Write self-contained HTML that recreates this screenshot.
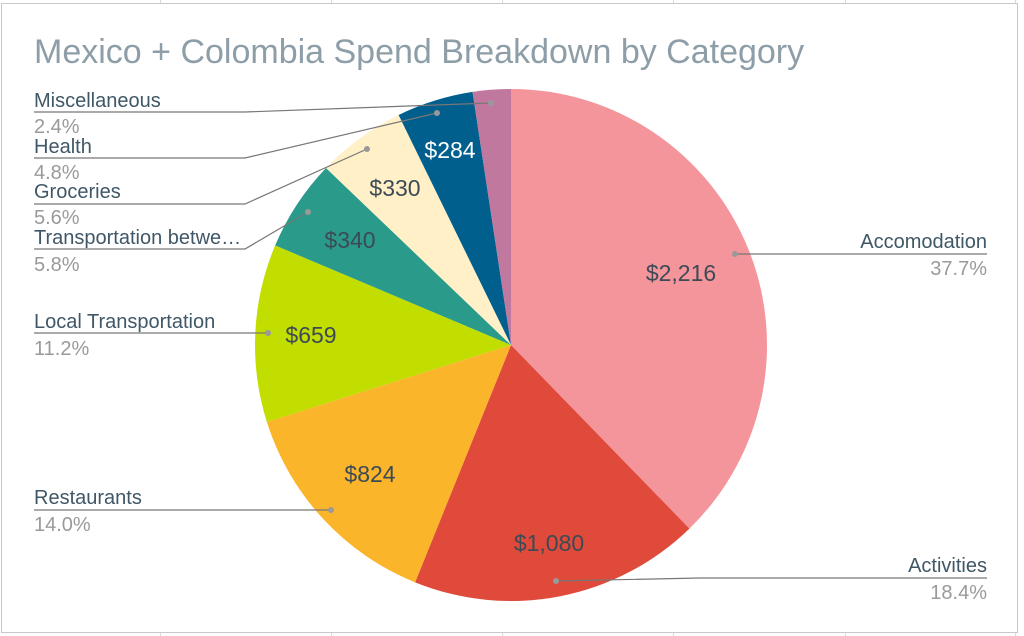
<!DOCTYPE html>
<html><head><meta charset="utf-8"><style>
html,body{margin:0;padding:0;background:#fff;}
svg{display:block;font-family:"Liberation Sans",Arial,sans-serif;}
</style></head><body>
<svg id="s" width="1024" height="636" viewBox="0 0 1024 636" xmlns="http://www.w3.org/2000/svg">
<g stroke="#d9d9d9" stroke-width="1">
<line x1="160.5" y1="0" x2="160.5" y2="636"/><line x1="331.5" y1="0" x2="331.5" y2="636"/>
<line x1="502.5" y1="0" x2="502.5" y2="636"/><line x1="673.5" y1="0" x2="673.5" y2="636"/>
<line x1="845.5" y1="0" x2="845.5" y2="636"/><line x1="1015.5" y1="0" x2="1015.5" y2="636"/>
</g>
<rect x="1.5" y="3.5" width="1016" height="629" fill="#fff" stroke="#c8c8c8"/>
<text x="34" y="63" font-size="34" fill="#8e9ea8">Mexico + Colombia Spend Breakdown by Category</text>
<g id="pie"></g>
<g fill="none" stroke="#777" stroke-width="1.2">
<polyline points="735,254 987,254"/>
<polyline points="556,581 700,578 987,578"/>
<polyline points="34,112 245,112 491,103"/>
<polyline points="34,158 245,158 437,113"/>
<polyline points="34,204 245,204 367,149"/>
<polyline points="34,249 245,249 308,212"/>
<polyline points="34,333 268,333"/>
<polyline points="34,510 331,510"/>
</g>
<g fill="#999">
<circle cx="735" cy="254" r="3"/><circle cx="556" cy="581" r="3"/><circle cx="491" cy="103" r="3"/>
<circle cx="437" cy="113" r="3"/><circle cx="367" cy="149" r="3"/><circle cx="308" cy="212" r="3"/>
<circle cx="268" cy="333" r="3"/><circle cx="331" cy="510" r="3"/>
</g>
<g font-size="20" fill="#3f5766">
<text x="987" y="248" text-anchor="end">Accomodation</text>
<text x="987" y="572" text-anchor="end">Activities</text>
<text x="34" y="107">Miscellaneous</text>
<text x="34" y="153">Health</text>
<text x="34" y="198">Groceries</text>
<text x="34" y="244">Transportation betwe…</text>
<text x="34" y="328">Local Transportation</text>
<text x="34" y="504">Restaurants</text>
</g>
<g font-size="20" fill="#9a9a9a">
<text x="987" y="275" text-anchor="end">37.7%</text>
<text x="987" y="599" text-anchor="end">18.4%</text>
<text x="34" y="133">2.4%</text>
<text x="34" y="179">4.8%</text>
<text x="34" y="224">5.6%</text>
<text x="34" y="271">5.8%</text>
<text x="34" y="355">11.2%</text>
<text x="34" y="531">14.0%</text>
</g>
<g font-size="23" fill="#3c4a55" text-anchor="middle">
<text x="681" y="281">$2,216</text>
<text x="549" y="551">$1,080</text>
<text x="370" y="482">$824</text>
<text x="311" y="343">$659</text>
<text x="350" y="248">$340</text>
<text x="395" y="196">$330</text>
<text x="450" y="158" fill="#fff">$284</text>
</g>
</svg>
<script>
var v=[2216,1080,824,659,340,330,284,141];
var c=["#f4959c","#e04a3a","#fbb52a","#c2dd00","#2a9a8a","#fff0c8","#005f8c","#c1789f"];
var t=v.reduce(function(a,b){return a+b},0),cx=511,cy=345,r=256,a=0,h="";
for(var i=0;i<v.length;i++){var b=a+v[i]/t*2*Math.PI;
var x1=cx+r*Math.sin(a),y1=cy-r*Math.cos(a),x2=cx+r*Math.sin(b),y2=cy-r*Math.cos(b);
h+='<path d="M'+cx+','+cy+'L'+x1+','+y1+'A'+r+','+r+' 0 '+(b-a>Math.PI?1:0)+' 1 '+x2+','+y2+'Z" fill="'+c[i]+'"/>';a=b;}
document.getElementById("pie").innerHTML=h;
</script>
</body></html>
